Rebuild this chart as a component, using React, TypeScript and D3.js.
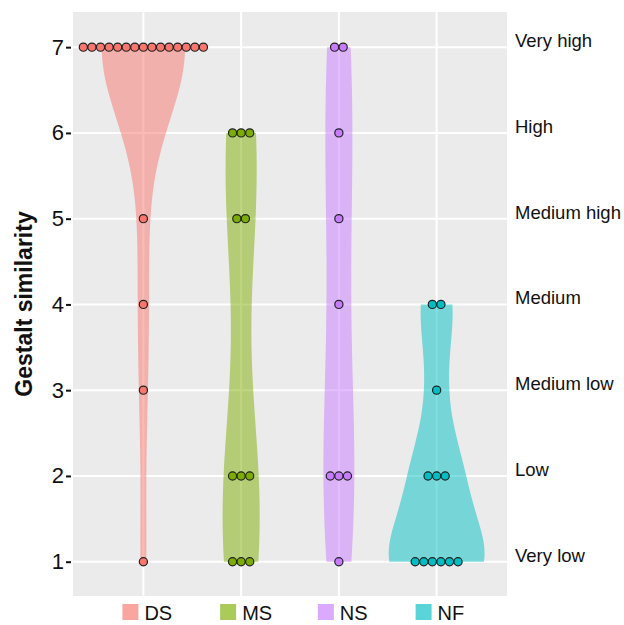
import React, { useEffect, useRef } from "react";
import * as d3 from "d3";

const groups = ["DS", "MS", "NS", "NF"];
const groupColors = ["#F8766D", "#7CAE00", "#C77CFF", "#00BFC4"];

// one score per participant
const dsScores = [7, 7, 7, 7, 7, 7, 7, 7, 7, 7, 7, 7, 7, 7, 7, 5, 4, 3, 1];
const msScores = [6, 6, 6, 5, 5, 2, 2, 2, 1, 1, 1];
const nsScores = [7, 7, 6, 5, 4, 2, 2, 2, 1];
const nfScores = [4, 4, 3, 2, 2, 2, 1, 1, 1, 1, 1, 1];

const levelTicks = [1, 2, 3, 4, 5, 6, 7];
const levelLabels = ["Very low", "Low", "Medium low", "Medium", "Medium high", "High", "Very high"];

const FONT = "'Liberation Sans', Arial, sans-serif";

// R's bw.nrd0
const bwNrd0 = (x: number[]) => {
  const s = x.slice().sort(d3.ascending);
  const hi = d3.deviation(s) as number;
  const iqr = (d3.quantile(s, 0.75) as number) - (d3.quantile(s, 0.25) as number);
  let lo = Math.min(hi, iqr / 1.34);
  if (!lo) lo = hi || Math.abs(s[0]) || 1;
  return 0.9 * lo * Math.pow(s.length, -0.2);
};

const kde = (x: number[]) => {
  const bw = bwNrd0(x);
  const [lo, hi] = d3.extent(x) as [number, number];
  const grid = d3.range(512).map(i => lo + ((hi - lo) * i) / 511);
  return grid.map(g => [
    g,
    (d3.mean(x, v => Math.exp(-0.5 * ((g - v) / bw) ** 2)) as number) / (bw * Math.sqrt(2 * Math.PI)),
  ]);
};

const ViolinDots = () => {
  const svgRef = useRef<SVGSVGElement>(null);
  const width = 624;
  const height = 625;
  const panel = { left: 73, right: 507, top: 12, bottom: 596 };

  useEffect(() => {
    const svg = d3.select(svgRef.current);
    svg.selectAll("*").remove();

    const scores = [dsScores, msScores, nsScores, nfScores];

    const x = d3.scalePoint<string>()
      .domain(groups)
      .range([panel.left, panel.right])
      .padding(0.72);

    const y = d3.scaleLinear()
      .domain([0.6, 7.41])
      .range([panel.bottom, panel.top]);

    const color = d3.scaleOrdinal<string, string>().domain(groups).range(groupColors);

    // panel + grid
    svg.append("rect")
      .attr("x", panel.left).attr("y", panel.top)
      .attr("width", panel.right - panel.left).attr("height", panel.bottom - panel.top)
      .attr("fill", "#EBEBEB");

    svg.append("g").selectAll("line")
      .data(levelTicks)
      .join("line")
      .attr("x1", panel.left).attr("x2", panel.right)
      .attr("y1", d => y(d)).attr("y2", d => y(d))
      .attr("stroke", "#fff").attr("stroke-width", 2);

    svg.append("g").selectAll("line")
      .data(groups)
      .join("line")
      .attr("x1", d => x(d)!).attr("x2", d => x(d)!)
      .attr("y1", panel.top).attr("y2", panel.bottom)
      .attr("stroke", "#fff").attr("stroke-width", 2);

    // violins (scale = "area")
    const dens = scores.map(kde);
    const maxDen = d3.max(dens, d => d3.max(d, p => p[1])) as number;
    const halfW = d3.scaleLinear().domain([0, maxDen]).range([0, x.step() * 0.49]);

    groups.forEach((g, i) => {
      const area = d3.area<number[]>()
        .x0(p => x(g)! - halfW(p[1]))
        .x1(p => x(g)! + halfW(p[1]))
        .y(p => y(p[0]));
      svg.append("path")
        .attr("d", area(dens[i]))
        .attr("fill", color(g))
        .attr("fill-opacity", 0.5);
    });

    // centred dot stacks
    const binwidth = 0.1;
    const dotD = y(1) - y(1 + binwidth);
    groups.forEach((g, i) => {
      const counts = Array.from(d3.rollup(scores[i], v => v.length, v => v));
      const dots = counts.flatMap(([val, k]) =>
        d3.range(k).map(j => ({ val, off: (j - (k - 1) / 2) * dotD }))
      );
      svg.append("g").selectAll("circle")
        .data(dots)
        .join("circle")
        .attr("cx", d => x(g)! + d.off)
        .attr("cy", d => y(d.val))
        .attr("r", dotD / 2 - 0.2)
        .attr("fill", color(g))
        .attr("stroke", "#222")
        .attr("stroke-width", 1.2);
    });

    // left axis
    const yAxis = svg.append("g")
      .attr("transform", `translate(${panel.left - 1}, 0)`)
      .call(d3.axisLeft(y).tickValues(levelTicks).tickFormat(d3.format("d")).tickSize(6).tickPadding(2));
    yAxis.select(".domain").remove();
    yAxis.selectAll(".tick line").attr("stroke", "#111").attr("stroke-width", 2).attr("x2", -6).attr("x1", -1);
    yAxis.selectAll(".tick text")
      .attr("font-family", FONT).attr("font-size", 22).attr("fill", "#111");

    svg.append("text")
      .attr("transform", `translate(32, ${(panel.top + panel.bottom) / 2}) rotate(-90)`)
      .attr("text-anchor", "middle")
      .attr("font-family", FONT).attr("font-size", 23).attr("font-weight", "bold")
      .attr("fill", "#111")
      .text("Gestalt similarity");

    // right-hand level names
    svg.append("g").selectAll("text")
      .data(levelTicks)
      .join("text")
      .attr("x", panel.right + 8)
      .attr("y", d => y(d))
      .attr("font-family", FONT).attr("font-size", 18.5).attr("fill", "#111")
      .text((_, i) => levelLabels[i]);

    // legend
    const leg = svg.append("g").selectAll("g")
      .data(groups)
      .join("g")
      .attr("transform", d => `translate(${x(d)! - 21}, 604)`);
    leg.append("rect")
      .attr("width", 16).attr("height", 16)
      .attr("fill", d => color(d)).attr("fill-opacity", 0.65);
    leg.append("text")
      .attr("x", 22).attr("y", 16)
      .attr("font-family", FONT).attr("font-size", 20).attr("fill", "#111")
      .text(d => d);
  }, []);

  return (
    <svg
      ref={svgRef}
      width={width}
      height={height}
      style={{ position: "absolute", left: 0, top: 0, background: "#fff" }}
    />
  );
};

export default function App() {
  return <ViolinDots />;
}
